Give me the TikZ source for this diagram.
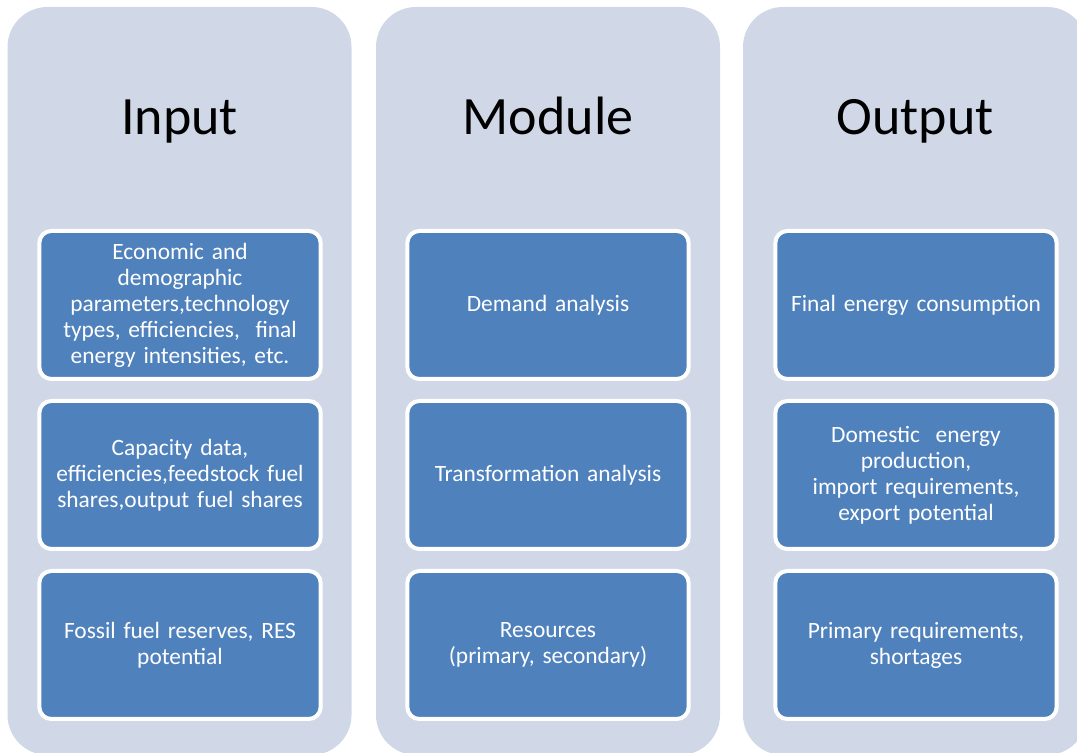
\documentclass[tikz,border=0pt]{standalone}
\usepackage{fontspec}
\setmainfont{Carlito}
\usetikzlibrary{positioning}
\definecolor{colbg}{RGB}{208,216,232}
\definecolor{boxblue}{RGB}{79,129,189}
\tikzset{
		colpanel/.style={fill=colbg, rounded corners=20pt, minimum width=172pt, minimum height=374pt, inner sep=0pt},
		coltitle/.style={anchor=base, font=\fontsize{27}{32}\selectfont},
		stage/.style={fill=boxblue, draw=white, line width=2pt, rounded corners=6pt, minimum width=136pt, minimum height=74pt, text width=134pt, align=center, text=white, font=\fontsize{11.7}{13}\selectfont}
	}

\begin{document}
\begin{tikzpicture}[x=0.5pt, y=0.5pt] % (one unit = one pixel of the 1077x753 picture)
		\clip (0,0) rectangle (1077,753);
		\foreach \n/\x/\t in {in/179.5/Input, mod/548/Module, out/915/Output} {
			\node[colpanel] (col\n) at (\x,372) {};
			\node[coltitle] (title\n) at (\x,618) {\t};
		}
		% input column
		\node[stage] (in1) at (180,448) {Economic and\\demographic\\parameters,technology\\types, efficiencies,~~final\\energy intensities, etc.};
		\node[stage, below=9pt of in1] (in2) {Capacity data,\\efficiencies,feedstock fuel\\shares,output fuel shares};
		\node[stage, below=9pt of in2] (in3) {Fossil fuel reserves, RES\\potential};
		% module column
		\node[stage] (mod1) at (548,448) {Demand analysis};
		\node[stage, below=9pt of mod1] (mod2) {Transformation analysis};
		\node[stage, below=9pt of mod2] (mod3) {Resources\\(primary, secondary)};
		% output column
		\node[stage] (out1) at (916,448) {Final energy consumption};
		\node[stage, below=9pt of out1] (out2) {Domestic~~energy\\production,\\import requirements,\\export potential};
		\node[stage, below=9pt of out2] (out3) {Primary requirements,\\shortages};
	\end{tikzpicture}
\end{document}
